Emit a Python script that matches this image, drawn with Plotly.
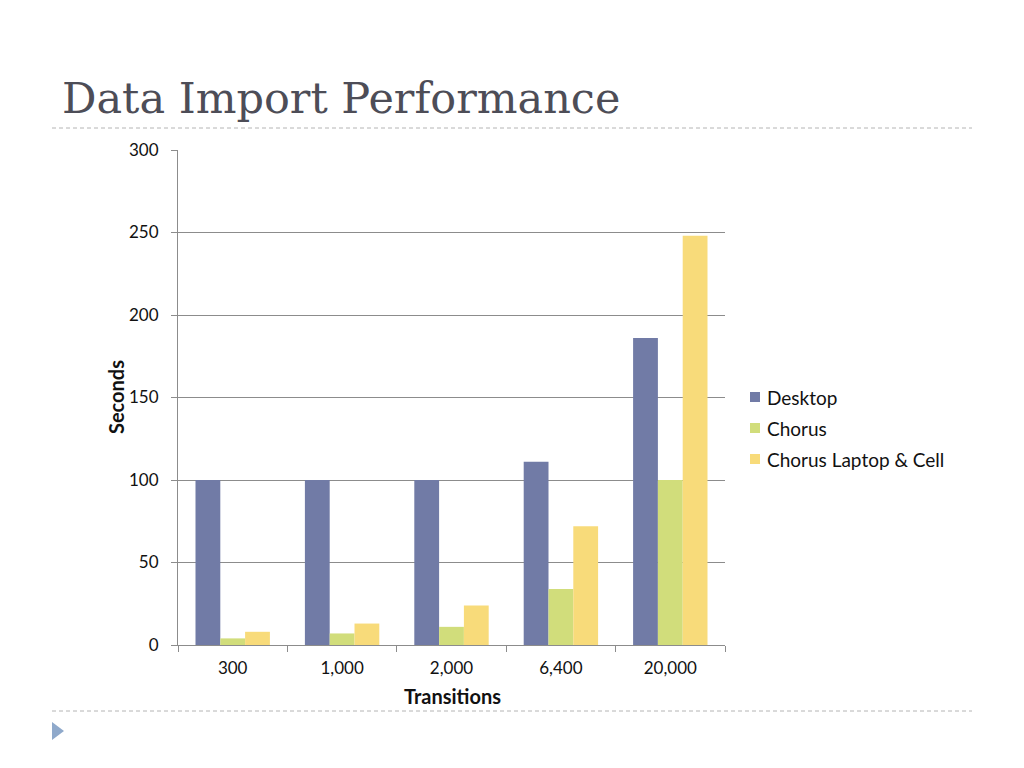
import plotly.graph_objects as go

categories = ["300", "1,000", "2,000", "6,400", "20,000"]
desktop = [100, 100, 100, 111, 186]
chorus = [4, 7, 11, 34, 100]
laptop_cell = [8, 13, 24, 72, 248]
series_names = ["Desktop", "Chorus", "Chorus Laptop & Cell"]
colors = ["#717ba6", "#d1dd7b", "#f8db7a"]
y_ticks = [0, 50, 100, 150, 200, 250, 300]

W, H = 1024, 768
OFF = 8  # page offset of the figure inside the html body
L, R, T, B = 178, 725, 150, 645  # plot area in page pixels


def px(x):
    return (x - L) / (R - L)


def py(y):
    return (B - y) / (B - T)


fig = go.Figure()
for name, vals, c in zip(series_names, [desktop, chorus, laptop_cell], colors):
    fig.add_trace(go.Bar(x=categories, y=vals, name=name, showlegend=False,
                         marker=dict(color=c, line=dict(width=0))))

font_sans = "Lato, 'Open Sans', sans-serif"
fig.update_layout(
    width=W, height=H, autosize=False,
    margin=dict(l=L - OFF, r=W - (R - OFF), t=T - OFF, b=H - (B - OFF), pad=0),
    paper_bgcolor="white", plot_bgcolor="white",
    barmode="group", bargap=0.32, bargroupgap=0,
    font=dict(family=font_sans, color="#111111", size=17),
    title=dict(text="Data Import Performance", x=(62 - OFF) / W, xanchor="left",
               y=1 - (98 - OFF) / H, yanchor="middle", yref="container",
               font=dict(family="'DejaVu Serif', serif", size=43, color="#4d4d57")),
    showlegend=False,
)
fig.update_xaxes(
    type="category", showline=True, linecolor="#8c8c8c", linewidth=1,
    ticks="outside", tickson="boundaries", ticklen=6, tickcolor="#8c8c8c",
    ticklabelstandoff=8,
    tickfont=dict(size=17), showgrid=False, fixedrange=True,
)
fig.update_yaxes(
    range=[0, 300], tickvals=y_ticks, showline=True, linecolor="#8c8c8c", linewidth=1,
    ticks="outside", ticklen=6, tickcolor="#8c8c8c", ticklabelstandoff=9,
    showgrid=True, gridcolor="#8c8c8c", gridwidth=1, zeroline=False,
    tickfont=dict(size=17),
)

# axis titles
fig.add_annotation(text="<b>Seconds</b>", textangle=-90, x=px(116), y=py(397),
                   xanchor="center", yanchor="middle",
                   xref="paper", yref="paper", showarrow=False,
                   font=dict(family=font_sans, size=20, color="#111111"))
fig.add_annotation(text="<b>Transitions</b>", x=px(452), y=py(696),
                   xanchor="center", yanchor="middle",
                   xref="paper", yref="paper", showarrow=False,
                   font=dict(family=font_sans, size=20, color="#111111"))

# legend (drawn to match the slide's compact legend)
legend_y = [397, 428, 459]
for name, c, yy in zip(series_names, colors, legend_y):
    fig.add_shape(type="rect", xref="paper", yref="paper",
                  x0=px(750), x1=px(760), y0=py(yy - 5), y1=py(yy + 5),
                  fillcolor=c, line=dict(width=0))
    fig.add_annotation(text=name, x=px(765), y=py(yy), xanchor="left", yanchor="middle",
                       xref="paper", yref="paper", showarrow=False,
                       font=dict(family=font_sans, size=19, color="#111111"))

# slide decorations: dashed separators and bullet triangle
for yy in (128, 711):
    fig.add_shape(type="line", xref="paper", yref="paper",
                  x0=px(52), x1=px(972), y0=py(yy), y1=py(yy),
                  line=dict(color="#b4b4b4", width=1, dash="4px,3px"))
fig.add_shape(type="path", xref="paper", yref="paper",
              path=f"M {px(52)},{py(722)} L {px(52)},{py(740)} L {px(64)},{py(731)} Z",
              fillcolor="#8fa9cb", line=dict(width=0))

fig.write_html("out.html")
